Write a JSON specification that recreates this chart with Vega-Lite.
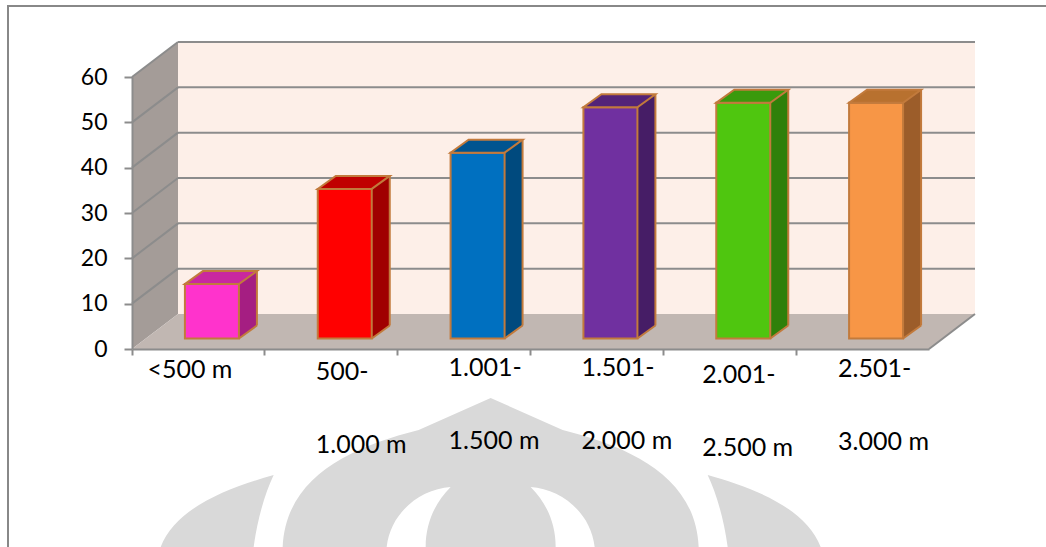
{
  "$schema": "https://vega.github.io/schema/vega-lite/v6.json",
  "width": 797,
  "height": 272,
  "padding": {"left": 132, "top": 77, "right": 117, "bottom": 198},
  "autosize": {"type": "none"},
  "background": "#ffffff",
  "config": {"view": {"stroke": null}, "font": "Lato"},
  "datasets": {
    "bars": [
      {"cat": "<500 m", "v": 12},
      {"cat": "500-1.000 m", "v": 33},
      {"cat": "1.001-1.500 m", "v": 41},
      {"cat": "1.501-2.000 m", "v": 51},
      {"cat": "2.001-2.500 m", "v": 52},
      {"cat": "2.501-3.000 m", "v": 52}
    ],
    "grid": [{"tick": 10}, {"tick": 20}, {"tick": 30}, {"tick": 40}, {"tick": 50}, {"tick": 60}]
  },
  "resolve": {"scale": {"color": "independent"}},
  "layer": [
    {
      "data": {"name": "bars"},
      "transform": [{"filter": "datum.cat == '1.001-1.500 m'"}],
      "mark": {"type": "point", "shape": "M0,-149 L72,-117 C140,-100 205,-70 208,0 L104,0 C100,-35 70,-58 40,-60 C55,-45 65,-25 65,0 L-65,0 C-65,-25 -55,-45 -40,-60 C-70,-58 -100,-35 -104,0 L-208,0 C-205,-70 -140,-100 -72,-117 Z M-217,-72 C-260,-60 -315,-40 -330,0 L-237,0 C-233,-30 -225,-55 -217,-72 Z M217,-72 C260,-60 315,-40 330,0 L237,0 C233,-30 225,-55 217,-72 Z", "size": 4, "filled": true, "fill": "#d9d9d9", "opacity": 1, "strokeWidth": 0, "xOffset": 93, "yOffset": 198},
      "encoding": {
        "x": {"field": "cat", "type": "nominal", "bandPosition": 0},
        "y": {"datum": 0, "type": "quantitative"}
      }
    },
    {
      "data": {"name": "grid"},
      "transform": [{"filter": "datum.tick == 60"}],
      "mark": {"type": "rule", "stroke": "#888888", "strokeWidth": 2, "xOffset": -124, "yOffset": -71, "y2Offset": 200},
      "encoding": {
        "x": {"datum": "<500 m", "type": "nominal", "bandPosition": 0},
        "y": {"field": "tick", "type": "quantitative"},
        "y2": {"datum": 0}
      }
    },
    {
      "data": {"name": "grid"},
      "transform": [{"filter": "datum.tick == 60"}],
      "mark": {"type": "rule", "stroke": "#888888", "strokeWidth": 2, "xOffset": -125, "x2Offset": 130, "yOffset": -71},
      "encoding": {
        "x": {"datum": "<500 m", "type": "nominal", "bandPosition": 0},
        "x2": {"datum": "2.501-3.000 m", "bandPosition": 1},
        "y": {"field": "tick", "type": "quantitative"}
      }
    },
    {
      "data": {"name": "grid"},
      "transform": [{"filter": "datum.tick == 60"}],
      "mark": {"type": "rect", "fill": "#fdefe8", "xOffset": 46, "x2Offset": 46, "yOffset": -35, "y2Offset": -35},
      "encoding": {
        "x": {"datum": "<500 m", "type": "nominal", "bandPosition": 0},
        "x2": {"datum": "2.501-3.000 m", "bandPosition": 1},
        "y": {"field": "tick", "type": "quantitative"},
        "y2": {"datum": 0}
      }
    },
    {
      "data": {"name": "grid"},
      "transform": [{"filter": "datum.tick == 60"}],
      "mark": {"type": "point", "shape": "M0,0 L0,-272 L46,-307 L46,-35 Z", "size": 4, "filled": true, "fill": "#a49c98", "opacity": 1, "strokeWidth": 0},
      "encoding": {
        "x": {"datum": "<500 m", "type": "nominal", "bandPosition": 0},
        "y": {"datum": 0, "type": "quantitative"}
      }
    },
    {
      "data": {"name": "grid"},
      "transform": [{"filter": "datum.tick == 60"}],
      "mark": {"type": "point", "shape": "M0,0 L797,0 L843,-35 L46,-35 Z", "size": 4, "filled": true, "fill": "#c1b7b2", "opacity": 1, "strokeWidth": 0},
      "encoding": {
        "x": {"datum": "<500 m", "type": "nominal", "bandPosition": 0},
        "y": {"datum": 0, "type": "quantitative"}
      }
    },
    {
      "data": {"name": "grid"},
      "mark": {"type": "rule", "stroke": "#8c8c8c", "strokeWidth": 2, "xOffset": 46, "x2Offset": 46, "yOffset": -35},
      "encoding": {
        "x": {"datum": "<500 m", "type": "nominal", "bandPosition": 0},
        "x2": {"datum": "2.501-3.000 m", "bandPosition": 1},
        "y": {"field": "tick", "type": "quantitative"}
      }
    },
    {
      "data": {"name": "grid"},
      "mark": {"type": "rule", "stroke": "#8c8c8c", "strokeWidth": 2, "x2Offset": 46, "y2Offset": -35},
      "encoding": {
        "x": {"datum": "<500 m", "type": "nominal", "bandPosition": 0},
        "x2": {"datum": "<500 m", "bandPosition": 0},
        "y": {"field": "tick", "type": "quantitative"},
        "y2": {"field": "tick"}
      }
    },
    {
      "data": {"name": "grid"},
      "transform": [{"filter": "datum.tick == 60"}],
      "mark": {"type": "rule", "stroke": "#8c8c8c", "strokeWidth": 2, "x2Offset": 46, "y2Offset": -35},
      "encoding": {
        "x": {"datum": "2.501-3.000 m", "type": "nominal", "bandPosition": 1},
        "x2": {"datum": "2.501-3.000 m", "bandPosition": 1},
        "y": {"datum": 0, "type": "quantitative"},
        "y2": {"datum": 0}
      }
    },
    {
      "data": {"name": "bars"},
      "mark": {"type": "bar", "width": 18, "xOffset": 49.5, "yOffset": -23.5, "y2Offset": -23.5},
      "encoding": {
        "x": {"field": "cat", "type": "nominal"},
        "y": {"field": "v", "type": "quantitative"},
        "y2": {"datum": 0},
        "color": {"field": "cat", "type": "nominal", "legend": null, "scale": {"domain": ["<500 m", "500-1.000 m", "1.001-1.500 m", "1.501-2.000 m", "2.001-2.500 m", "2.501-3.000 m"], "range": ["#a51e82", "#a00000", "#004a7e", "#461d66", "#2f800a", "#9c5d2a"]}}
      }
    },
    {
      "data": {"name": "bars"},
      "mark": {"type": "point", "shape": "M40.5,-24 L58.5,-24 L40.5,-10.5 Z", "size": 4, "filled": true, "opacity": 1, "strokeWidth": 0},
      "encoding": {
        "x": {"field": "cat", "type": "nominal"},
        "y": {"datum": 0, "type": "quantitative"},
        "color": {"field": "cat", "type": "nominal", "legend": null, "scale": {"domain": ["<500 m", "500-1.000 m", "1.001-1.500 m", "1.501-2.000 m", "2.001-2.500 m", "2.501-3.000 m"], "range": ["#a51e82", "#a00000", "#004a7e", "#461d66", "#2f800a", "#9c5d2a"]}}
      }
    },
    {
      "data": {"name": "bars"},
      "mark": {"type": "bar", "width": 54, "xOffset": 13.5, "yOffset": -10.5, "y2Offset": -10.5, "stroke": "#c27a3c", "strokeWidth": 2},
      "encoding": {
        "x": {
          "field": "cat", "type": "nominal", "sort": null,
          "scale": {"type": "band", "domain": ["<500 m", "500-1.000 m", "1.001-1.500 m", "1.501-2.000 m", "2.001-2.500 m", "2.501-3.000 m"], "paddingInner": 0, "paddingOuter": 0},
          "axis": {
            "title": null, "bandPosition": 0, "zindex": 1,
            "domainColor": "#8c8c8c", "domainWidth": 2,
            "tickColor": "#8c8c8c", "tickWidth": 2, "tickSize": 6,
            "labelFont": "Lato", "labelFontSize": 25, "labelColor": "#000000",
            "labelAlign": "left", "labelBaseline": "top", "labelAngle": 0,
            "labelLineHeight": 73,
            "labelPadding": {"condition": [
              {"test": "datum.value == '<500 m'", "value": 2},
              {"test": "datum.value == '500-1.000 m'", "value": 4},
              {"test": "datum.value == '2.001-2.500 m'", "value": 7},
              {"test": "datum.value == '2.501-3.000 m'", "value": 1}
            ], "value": 0},
            "labelOverlap": false, "labelFlush": false, "labelBound": false, "labelLimit": 300,
            "labelOffset": {"condition": [
              {"test": "datum.value == '<500 m'", "value": -51},
              {"test": "datum.value == '2.001-2.500 m'", "value": -27.5},
              {"test": "datum.value == '2.501-3.000 m'", "value": -24.5}
            ], "value": -15.5},
            "labelExpr": "indexof(datum.label, '-') > 0 ? [substring(datum.label, 0, indexof(datum.label, '-') + 1), substring(datum.label, indexof(datum.label, '-') + 1)] : datum.label"
          }
        },
        "y": {
          "field": "v", "type": "quantitative",
          "scale": {"domain": [0, 60], "nice": false, "zero": true},
          "axis": {
            "title": null, "values": [0, 10, 20, 30, 40, 50, 60], "grid": false, "zindex": 1,
            "domainColor": "#8c8c8c", "domainWidth": 2,
            "tickColor": "#8c8c8c", "tickWidth": 2, "tickSize": 8,
            "labelFont": "Lato", "labelFontSize": 23, "labelColor": "#000000", "labelPadding": 17
          }
        },
        "y2": {"datum": 0},
        "color": {"field": "cat", "type": "nominal", "legend": null, "scale": {"domain": ["<500 m", "500-1.000 m", "1.001-1.500 m", "1.501-2.000 m", "2.001-2.500 m", "2.501-3.000 m"], "range": ["#ff33cc", "#ff0000", "#0070c0", "#7030a0", "#4fc60f", "#f79646"]}}
      }
    },
    {
      "data": {"name": "bars"},
      "mark": {"type": "point", "shape": "M-13.5,-10.5 L40.5,-10.5 L58.5,-23.5 L4.5,-23.5 Z", "size": 4, "filled": true, "opacity": 1, "stroke": "#c27a3c", "strokeWidth": 2},
      "encoding": {
        "x": {"field": "cat", "type": "nominal"},
        "y": {"field": "v", "type": "quantitative"},
        "color": {"field": "cat", "type": "nominal", "legend": null, "scale": {"domain": ["<500 m", "500-1.000 m", "1.001-1.500 m", "1.501-2.000 m", "2.001-2.500 m", "2.501-3.000 m"], "range": ["#c9289f", "#c00000", "#005490", "#532378", "#3a9a0c", "#b8712f"]}}
      }
    },
    {
      "data": {"name": "bars"},
      "mark": {"type": "rule", "stroke": "#c27a3c", "strokeWidth": 2, "xOffset": 58.5, "yOffset": -23.5, "y2Offset": -23.5},
      "encoding": {
        "x": {"field": "cat", "type": "nominal"},
        "y": {"field": "v", "type": "quantitative"},
        "y2": {"datum": 0}
      }
    },
    {
      "data": {"name": "bars"},
      "mark": {"type": "point", "shape": "M40.5,-10.5 L58.5,-23.5", "size": 4, "filled": false, "opacity": 1, "stroke": "#c27a3c", "strokeWidth": 2},
      "encoding": {
        "x": {"field": "cat", "type": "nominal"},
        "y": {"datum": 0, "type": "quantitative"}
      }
    }
  ]
}
